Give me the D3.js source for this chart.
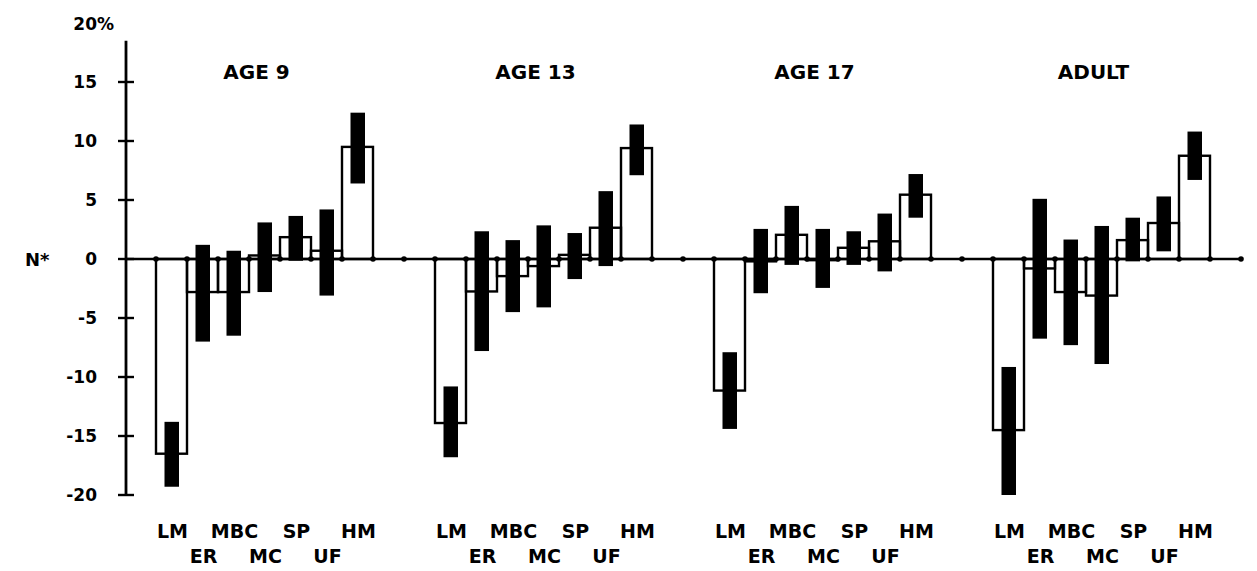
<!DOCTYPE html>
<html>
<head>
<meta charset="utf-8">
<script src="https://cdn.jsdelivr.net/npm/d3@7"></script>
<style>
  body { margin: 0; background: #fff; }
  text { font-family: "DejaVu Sans", "Liberation Sans", Arial, sans-serif; font-weight: bold; fill: #000; }
</style>
</head>
<body>
<div id="container"></div>
<script>
// DATA
const groups = ["AGE 9", "AGE 13", "AGE 17", "ADULT"];
const categories = ["LM", "ER", "MBC", "MC", "SP", "UF", "HM"];
const yTicks = [-20, -15, -10, -5, 0, 5, 10, 15];

// open bars: percent deviation
const age9Values  = [-16.5, -2.8, -2.8,  0.3, 1.85, 0.7,  9.5];
const age13Values = [-13.9, -2.75, -1.45, -0.6, 0.35, 2.65, 9.4];
const age17Values = [-11.15, -0.2, 2.05, -0.1, 0.95, 1.5,  5.45];
const adultValues = [-14.5, -0.8, -2.8, -3.1, 1.6,  3.05, 8.75];

// black bars: low / high of the interval
const age9Low   = [-19.3, -7.0, -6.5, -2.8, -0.15, -3.1, 6.4];
const age9High  = [-13.8,  1.2,  0.7,  3.1,  3.65,  4.2, 12.4];
const age13Low  = [-16.8, -7.8, -4.5, -4.1, -1.7, -0.6, 7.1];
const age13High = [-10.8,  2.35, 1.6,  2.85, 2.2,  5.75, 11.4];
const age17Low  = [-14.4, -2.9, -0.5, -2.45, -0.5, -1.05, 3.5];
const age17High = [-7.9,   2.55, 4.5,  2.55,  2.35, 3.85, 7.2];
const adultLow  = [-20.0, -6.75, -7.3, -8.9, -0.2, 0.65, 6.7];
const adultHigh = [-9.15,  5.1,   1.65, 2.8,  3.5, 5.3, 10.8];

const values = [age9Values, age13Values, age17Values, adultValues];
const lows = [age9Low, age13Low, age17Low, adultLow];
const highs = [age9High, age13High, age17High, adultHigh];

// build rows
const rows = [];
groups.forEach((g, gi) => {
  categories.forEach((c, ci) => {
    rows.push({
      group: g, cat: c,
      slot: 1 + gi * 9 + ci,   // every group takes 7 slots, 2 empty between
      value: values[gi][ci], low: lows[gi][ci], high: highs[gi][ci]
    });
  });
});

const width = 1257, height = 571;

const x = d3.scaleLinear().domain([0, 36]).range([125, 1241]);
const y = d3.scaleLinear().domain([-20, 20]).range([495, 23]);
const slotW = x(1) - x(0);

const svg = d3.select("#container").append("svg")
  .attr("width", width).attr("height", height);

// open bars
svg.selectAll("rect.open")
  .data(rows)
  .join("rect")
  .attr("class", "open")
  .attr("x", d => x(d.slot))
  .attr("y", d => y(Math.max(0, d.value)))
  .attr("width", slotW)
  .attr("height", d => Math.abs(y(d.value) - y(0)))
  .attr("fill", "none")
  .attr("stroke", "#000")
  .attr("stroke-width", 2.4);

// black interval bars
svg.selectAll("rect.ci")
  .data(rows)
  .join("rect")
  .attr("class", "ci")
  .attr("x", d => x(d.slot + 0.5) - 7)
  .attr("y", d => y(d.high))
  .attr("width", 14.5)
  .attr("height", d => y(d.low) - y(d.high))
  .attr("fill", "#000");

// zero line with dots
svg.append("line")
  .attr("x1", x(0)).attr("x2", x(36))
  .attr("y1", y(0)).attr("y2", y(0))
  .attr("stroke", "#000").attr("stroke-width", 2.6);

svg.selectAll("circle.dot")
  .data(d3.range(1, 37))
  .join("circle")
  .attr("class", "dot")
  .attr("cx", d => x(d)).attr("cy", y(0))
  .attr("r", 2.8).attr("fill", "#000");

// y axis
const yAxis = d3.axisLeft(y)
  .tickValues(yTicks)
  .tickSize(0)
  .tickPadding(29)
  .tickFormat(d => String(d));

const gy = svg.append("g")
  .attr("transform", `translate(${x(0) + 1},0)`)
  .call(yAxis);
gy.select(".domain").remove();
gy.selectAll("text")
  .style("font-size", "17px")
  .style("font-family", "'DejaVu Sans', 'Liberation Sans', Arial, sans-serif")
  .style("font-weight", "bold");

svg.append("line")
  .attr("x1", x(0) + 1).attr("x2", x(0) + 1)
  .attr("y1", y(18.5)).attr("y2", y(-20))
  .attr("stroke", "#000").attr("stroke-width", 2.8);

svg.selectAll("line.tick")
  .data(yTicks)
  .join("line")
  .attr("class", "tick")
  .attr("x1", x(0) - 7).attr("x2", x(0) + 9)
  .attr("y1", d => y(d)).attr("y2", d => y(d))
  .attr("stroke", "#000").attr("stroke-width", 2.4);

svg.append("text")
  .attr("x", 114).attr("y", y(20) + 7)
  .attr("text-anchor", "end")
  .style("font-size", "17px")
  .text("20%");

svg.append("text")
  .attr("x", 25).attr("y", y(0) + 7)
  .style("font-size", "18px")
  .text("N*");

// group titles
svg.selectAll("text.title")
  .data(groups)
  .join("text")
  .attr("class", "title")
  .attr("x", (d, i) => x(1 + i * 9 + 3.5) - 8)
  .attr("y", 79)
  .attr("text-anchor", "middle")
  .style("font-size", "20px")
  .text(d => d);

// category labels, alternating rows
svg.selectAll("text.cat")
  .data(rows)
  .join("text")
  .attr("class", "cat")
  .attr("x", d => x(d.slot + 0.5) + 1)
  .attr("y", (d, i) => (i % 7) % 2 === 0 ? 538 : 563)
  .attr("text-anchor", "middle")
  .style("font-size", "19px")
  .text(d => d.cat);
</script>
</body>
</html>
